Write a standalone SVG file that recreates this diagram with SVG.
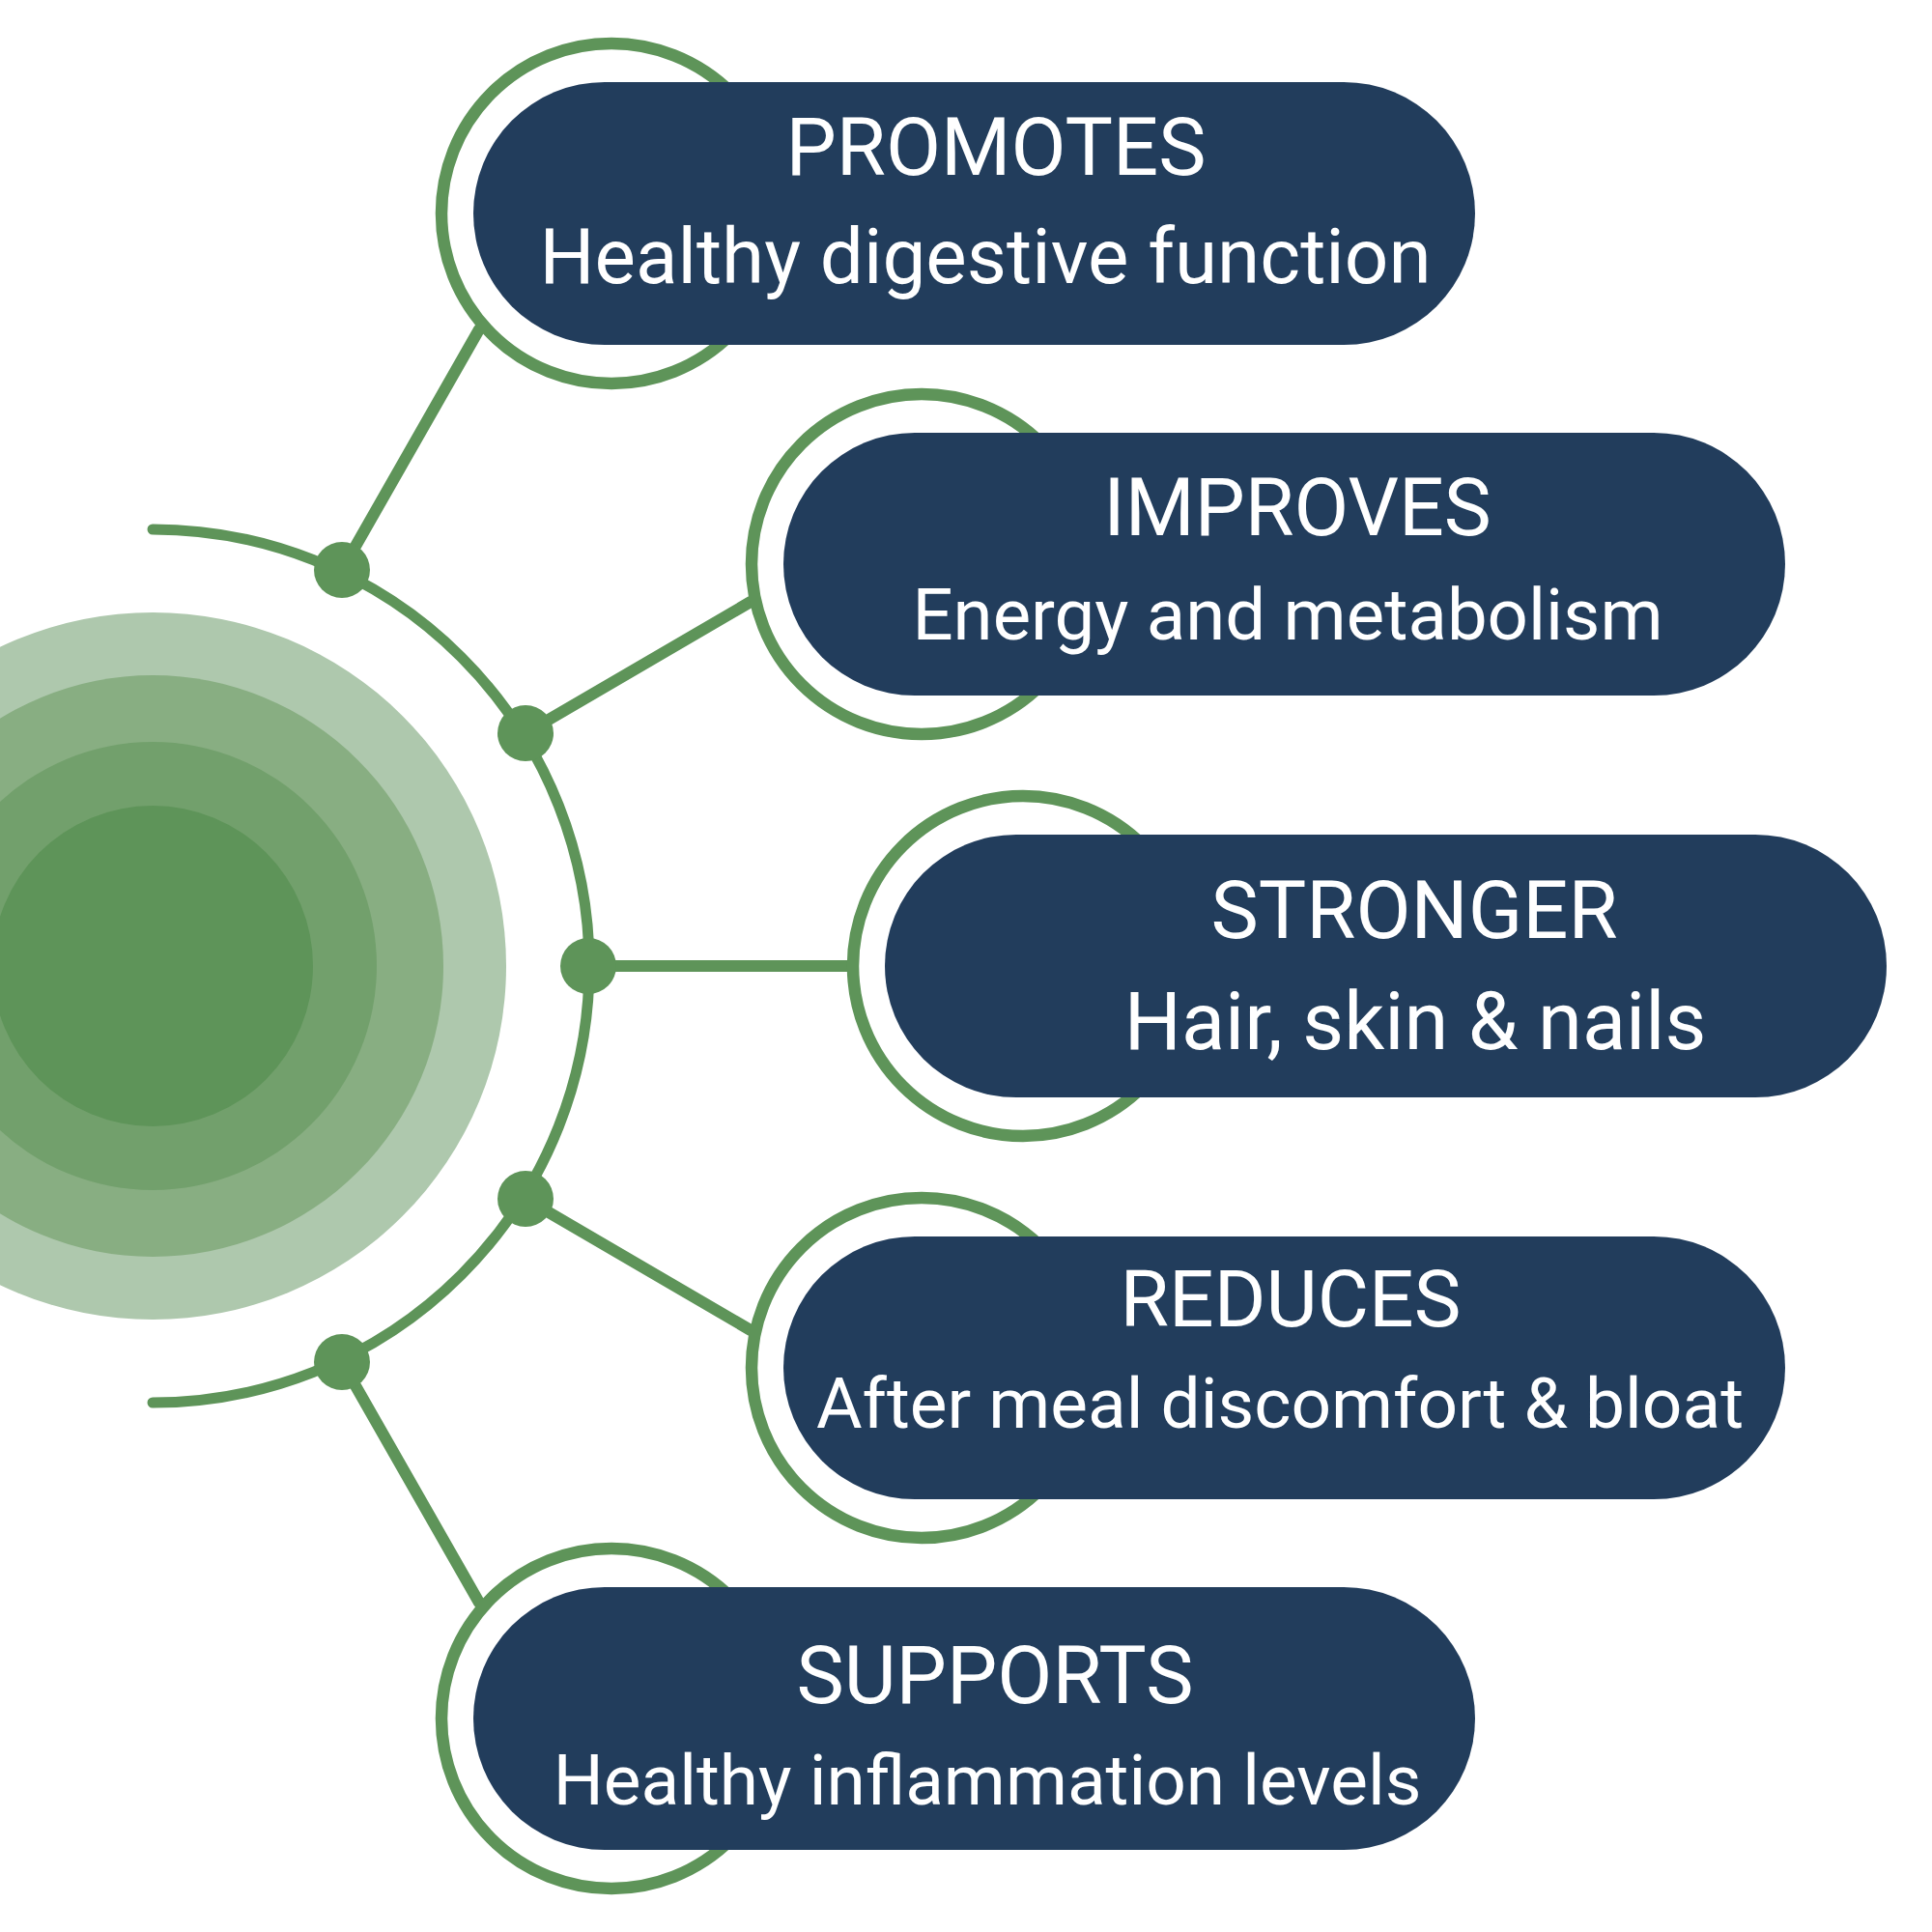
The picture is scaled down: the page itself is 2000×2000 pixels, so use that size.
<svg xmlns="http://www.w3.org/2000/svg" width="2000" height="2000" viewBox="0 0 2000 2000">
<style>
.ring{fill:none;stroke:#5E9459;stroke-width:12.5}
.pill{fill:#223D5C}
.conn{fill:none;stroke:#5E9459;stroke-width:12;stroke-linecap:round}
.dot{fill:#5E9459}
.t{font-family:Roboto,"Liberation Sans",sans-serif;fill:#FFFFFF;text-anchor:middle}
</style>
<rect width="2000" height="2000" fill="#FFFFFF"/>
<g id="hub">
<circle cx="158" cy="1000" r="366" fill="#AEC8AD"/>
<circle cx="158" cy="1000" r="301" fill="#88AE82"/>
<circle cx="158" cy="1000" r="232" fill="#72A06C"/>
<circle cx="158" cy="1000" r="166" fill="#5E9459"/>
</g>
<g id="connectors">
<path class="conn" style="stroke-width:11" d="M158,548 A452,452 0 0 1 158,1452"/>
<line class="conn" x1="354" y1="590" x2="496" y2="341"/>
<line class="conn" x1="544" y1="759" x2="777" y2="623"/>
<line class="conn" x1="609" y1="1000" x2="883" y2="1000"/>
<line class="conn" x1="544" y1="1241" x2="777" y2="1377"/>
<line class="conn" x1="354" y1="1410" x2="496" y2="1659"/>
<circle class="dot" cx="354" cy="590" r="29"/>
<circle class="dot" cx="544" cy="759" r="29"/>
<circle class="dot" cx="609" cy="1000" r="29"/>
<circle class="dot" cx="544" cy="1241" r="29"/>
<circle class="dot" cx="354" cy="1410" r="29"/>
</g>
<g id="node-promotes">
<circle class="ring" cx="633" cy="221" r="176"/>
<rect class="pill" x="490" y="85" width="1037" height="272" rx="136"/>
<text class="t" x="1031" y="181" font-size="83">PROMOTES</text>
<text class="t" x="1020" y="293" font-size="80">Healthy digestive function</text>
</g>
<g id="node-improves">
<circle class="ring" cx="954" cy="584" r="176"/>
<rect class="pill" x="811" y="448" width="1037" height="272" rx="136"/>
<text class="t" x="1343" y="554" font-size="82.5">IMPROVES</text>
<text class="t" x="1333" y="662" font-size="74.3">Energy and metabolism</text>
</g>
<g id="node-stronger">
<circle class="ring" cx="1059" cy="1000" r="176"/>
<rect class="pill" x="916" y="864" width="1037" height="272" rx="136"/>
<text class="t" x="1464" y="971" font-size="83">STRONGER</text>
<text class="t" x="1465" y="1086" font-size="83">Hair, skin &amp; nails</text>
</g>
<g id="node-reduces">
<circle class="ring" cx="954" cy="1416" r="176"/>
<rect class="pill" x="811" y="1280" width="1037" height="272" rx="136"/>
<text class="t" x="1336" y="1373" font-size="82">REDUCES</text>
<text class="t" x="1325" y="1478" font-size="73">After meal discomfort &amp; bloat</text>
</g>
<g id="node-supports">
<circle class="ring" cx="633" cy="1779" r="176"/>
<rect class="pill" x="490" y="1643" width="1037" height="272" rx="136"/>
<text class="t" x="1030" y="1763" font-size="83">SUPPORTS</text>
<text class="t" x="1022" y="1868" font-size="73">Healthy inflammation levels</text>
</g>
</svg>
